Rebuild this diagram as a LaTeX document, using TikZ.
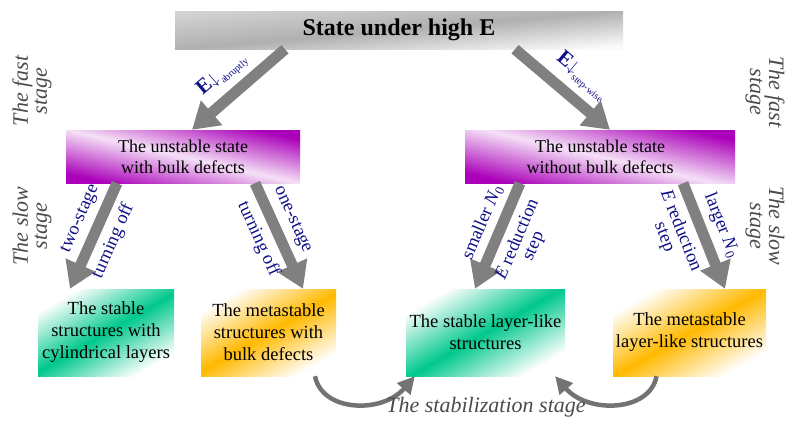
\documentclass[tikz,border=0pt]{standalone}
\usepackage{fontspec}
\setmainfont{Liberation Serif}
\usetikzlibrary{arrows.meta}

\definecolor{stagepurple}{RGB}{170,0,185}
\definecolor{stablegreen}{RGB}{0,200,140}
\definecolor{metaorange}{RGB}{255,185,0}
\definecolor{labelblue}{RGB}{15,15,135}
\definecolor{stagegray}{RGB}{75,75,75}

\begin{document}
\begin{tikzpicture}[x=1pt, y=-1pt,
    statebox/.style={inner sep=0pt, align=center, font=\fontsize{18.5}{22}\selectfont},
    highbox/.style={statebox, top color=gray!35, bottom color=gray!3, middle color=gray!62,
        shading angle=5, minimum width=448pt, minimum height=38pt,
        font=\bfseries\fontsize{24}{28}\selectfont},
    unstable/.style={statebox, left color=stagepurple, right color=stagepurple,
        middle color=stagepurple!12, shading angle=167, minimum height=53pt,
        font=\fontsize{18}{21}\selectfont},
    stable/.style={statebox, top color=white, bottom color=white,
        middle color=stablegreen, shading angle=30, minimum height=87pt},
    metastable/.style={statebox, top color=white, bottom color=white,
        middle color=metaorange, shading angle=30, minimum height=87pt},
    bigarrow/.style={draw=gray, line width=11pt, -{Triangle[length=26pt,width=31pt]}},
    bendarrow/.style={draw=gray!90!black, line width=4.5pt, -{Triangle[length=17pt,width=17pt]}},
    armlabel/.style={sloped, text=labelblue, inner sep=1pt, align=center,
        font=\fontsize{18.5}{17.5}\selectfont},
    sidelabel/.style={text=stagegray, align=center, font=\itshape\fontsize{22}{19}\selectfont}]

    \useasboundingbox (0,0) rectangle (786,421);

    % states
    \node[highbox] (high) at (399,30) {State under high E};
    \node[unstable, minimum width=234pt] (unsl) at (183,156.5) {The unstable state\\with bulk defects};
    \node[unstable, minimum width=270pt] (unsr) at (600,156.5) {The unstable state\\without bulk defects};

    \node[stable, minimum width=136pt] (cyl) at (106,332.5) {The stable\\structures with\\cylindrical layers};
    \node[metastable, minimum width=135pt] (defect) at (268.5,332.5) {The metastable\\structures with\\bulk defects};
    \node[stable, minimum width=159pt] (layer) at (485.5,332.5) {The stable layer-like\\structures};
    \node[metastable, minimum width=153pt] (metalayer) at (689.5,332.5) {The metastable\\layer-like structures};

    % the fast stage
    \draw[bigarrow] ([xshift=-114pt]high.south) -- ([xshift=9pt]unsl.north)
        node[armlabel, above=5pt, pos=0.52] {{\bfseries\fontsize{21}{22}\selectfont E}$\downarrow$\kern1pt\raisebox{-5pt}{\fontsize{10}{11}\selectfont abruptly}};
    \draw[bigarrow] ([xshift=116pt]high.south) -- ([xshift=10pt]unsr.north)
        node[armlabel, above=5pt, pos=0.55] {{\bfseries\fontsize{21}{22}\selectfont E}$\downarrow$\kern1pt\raisebox{-5pt}{\fontsize{10}{11}\selectfont step-wise}};

    % the slow stage
    \draw[bigarrow] ([xshift=-66pt]unsl.south) -- ([xshift=-36pt]cyl.north)
        node[armlabel, above=5pt, pos=0.41] {two-stage}
        node[armlabel, below=5pt, pos=0.47] {turning off};
    \draw[bigarrow] ([xshift=72pt]unsl.south) -- ([xshift=34.5pt]defect.north)
        node[armlabel, above=5pt, pos=0.42] {one-stage}
        node[armlabel, below=5pt, pos=0.45] {turning off};
    \draw[bigarrow] ([xshift=-80pt]unsr.south) -- ([xshift=-10.5pt]layer.north)
        node[armlabel, above=5pt, pos=0.44] {smaller \textit{N}\textsubscript{0}}
        node[armlabel, below=5pt, pos=0.46] {\textit{E} reduction\\step};
    \draw[bigarrow] ([xshift=83pt]unsr.south) -- ([xshift=35.5pt]metalayer.north)
        node[armlabel, above=5pt, pos=0.47] {larger \textit{N}\textsubscript{0}}
        node[armlabel, below=5pt, pos=0.38] {\textit{E} reduction\\step};

    % the stabilization stage
    \draw[bendarrow] ([xshift=46.5pt]defect.south) .. controls (322,412) and (382,414) .. ([xshift=9pt]layer.south west);
    \draw[bendarrow] ([xshift=-33pt]metalayer.south) .. controls (650,412) and (588,414) .. ([xshift=-10pt]layer.south east);
    \node[sidelabel] (stab) at (486,407) {The stabilization stage};

    % stage names at the sides
    \node[sidelabel, rotate=90] (fastl) at (32,91) {The fast\\stage};
    \node[sidelabel, rotate=90] (slowl) at (32,226) {The slow\\stage};
    \node[sidelabel, rotate=-90] (fastr) at (765,92) {The fast\\stage};
    \node[sidelabel, rotate=-90] (slowr) at (765,226) {The slow\\stage};
\end{tikzpicture}
\end{document}
